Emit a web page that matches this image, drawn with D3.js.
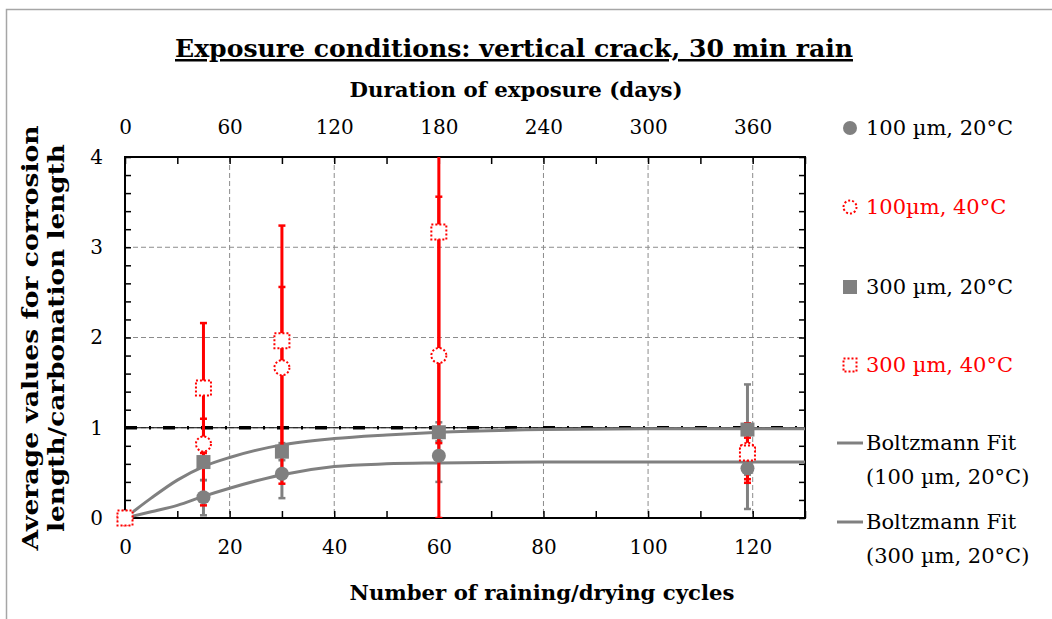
<!DOCTYPE html>
<html>
<head>
<meta charset="utf-8">
<script src="https://cdn.jsdelivr.net/npm/d3@7"></script>
<style>
  body { margin: 0; background: #fff; }
  text { font-family: "DejaVu Serif", serif; }
</style>
</head>
<body>
<div id="chart"></div>
<script>
const WIDTH = 1052;
const HEIGHT = 619;

// Plot box.
const PLOT = {'left': 125, 'right': 805, 'top': 157, 'bottom': 518};

// Data (cycles on the x axis).
const cycles = [0, 15, 30, 60, 119];

const mean100_20 = [0, 0.23, 0.49, 0.69, 0.55];
const low100_20  = [0, 0.03, 0.22, 0.40, 0.10];
const high100_20 = [0, 0.42, 0.74, 0.98, 0.98];

const mean300_20 = [0, 0.62, 0.735, 0.95, 0.98];
const low300_20  = [0, 0.42, 0.64, 0.85, 0.48];
const high300_20 = [0, 0.82, 0.83, 1.06, 1.48];

const mean100_40 = [0, 0.82, 1.665, 1.80, 0.75];
const low100_40  = [0, 0.14, 0.38, 0.00, 0.43];
const high100_40 = [0, 1.10, 2.56, 3.56, 0.89];

const mean300_40 = [0, 1.44, 1.965, 3.17, 0.72];
const low300_40  = [0, 0.72, 0.69, 0.83, 0.39];
const high300_40 = [0, 2.16, 3.24, 5.50, 1.05];

// Boltzmann fit curves.
const fitX      = [0, 5, 10, 15, 20, 30, 40, 50, 60, 80, 100, 130];
const fit100_20 = [0, 0.07, 0.14, 0.24, 0.33, 0.48, 0.57, 0.60, 0.61, 0.62, 0.62, 0.62];
const fit300_20 = [0, 0.22, 0.42, 0.57, 0.67, 0.81, 0.88, 0.92, 0.95, 0.98, 0.99, 0.99];

const refLevel = 1;

const xTicks = [0, 20, 40, 60, 80, 100, 120];
const yTicks = [0, 1, 2, 3, 4];
const dayTicks = [0, 60, 120, 180, 240, 300, 360];

const GRAY = "#808080";
const RED = "#ff0000";

window.onload = function() {

    var svg = d3.select("#chart").append("svg")
        .attr("width", WIDTH)
        .attr("height", HEIGHT);

    // outer frame
    svg.append("rect")
        .attr("x", 6.5).attr("y", 9.5)
        .attr("width", 1200).attr("height", 800)
        .attr("fill", "none")
        .attr("stroke", "#a6a6a6")
        .attr("stroke-width", 1.5);

    var x = d3.scaleLinear().domain([0, 130]).range([PLOT.left, PLOT.right]);
    var xDays = d3.scaleLinear().domain([0, 390]).range([PLOT.left, PLOT.right]);
    var y = d3.scaleLinear().domain([0, 4]).range([PLOT.bottom, PLOT.top]);

    svg.append("defs").append("clipPath").attr("id", "clip")
        .append("rect")
        .attr("x", PLOT.left).attr("y", PLOT.top)
        .attr("width", PLOT.right - PLOT.left)
        .attr("height", PLOT.bottom - PLOT.top);

    // grid
    var grid = svg.append("g");
    grid.selectAll(".vg").data(xTicks.filter(d => d > 0))
        .enter().append("line")
        .attr("x1", d => x(d)).attr("x2", d => x(d))
        .attr("y1", PLOT.top).attr("y2", PLOT.bottom)
        .attr("stroke", "#8c8c8c").attr("stroke-width", 1)
        .attr("stroke-dasharray", "5,3");
    grid.selectAll(".hg").data([1, 2, 3])
        .enter().append("line")
        .attr("x1", PLOT.left).attr("x2", PLOT.right)
        .attr("y1", d => y(d)).attr("y2", d => y(d))
        .attr("stroke", "#8c8c8c").attr("stroke-width", 1)
        .attr("stroke-dasharray", "5,3");

    // minor ticks (inward)
    var minorX = d3.range(0, 131, 10);
    var minorY = d3.range(0, 4.01, 0.2);
    svg.append("g")
        .attr("transform", "translate(0," + PLOT.bottom + ")")
        .call(d3.axisBottom(x).tickValues(minorX).tickSize(-7).tickFormat(""))
        .call(g => g.select(".domain").remove())
        .selectAll("line").attr("stroke", "#000").attr("stroke-width", 1.5);
    svg.append("g")
        .attr("transform", "translate(0," + PLOT.top + ")")
        .call(d3.axisTop(xDays).tickValues(d3.range(0, 391, 30)).tickSize(-7).tickFormat(""))
        .call(g => g.select(".domain").remove())
        .selectAll("line").attr("stroke", "#000").attr("stroke-width", 1.5);
    svg.append("g")
        .attr("transform", "translate(" + PLOT.left + ",0)")
        .call(d3.axisLeft(y).tickValues(minorY).tickSize(-6).tickFormat(""))
        .call(g => g.select(".domain").remove())
        .selectAll("line").attr("stroke", "#000").attr("stroke-width", 1.5);
    svg.append("g")
        .attr("transform", "translate(" + PLOT.right + ",0)")
        .call(d3.axisRight(y).tickValues(minorY).tickSize(-6).tickFormat(""))
        .call(g => g.select(".domain").remove())
        .selectAll("line").attr("stroke", "#000").attr("stroke-width", 1.5);

    // labels
    var bottomAxis = svg.append("g")
        .attr("transform", "translate(0," + PLOT.bottom + ")")
        .call(d3.axisBottom(x).tickValues(xTicks).tickSize(0).tickPadding(22));
    var topAxis = svg.append("g")
        .attr("transform", "translate(0," + PLOT.top + ")")
        .call(d3.axisTop(xDays).tickValues(dayTicks).tickSize(0).tickPadding(23));
    var leftAxis = svg.append("g")
        .attr("transform", "translate(" + PLOT.left + ",0)")
        .call(d3.axisLeft(y).tickValues(yTicks).tickSize(0).tickPadding(22).tickFormat(d3.format("d")));
    [bottomAxis, topAxis, leftAxis].forEach(function(a) {
        a.select(".domain").remove();
        a.selectAll("text")
            .attr("font-family", "DejaVu Serif")
            .attr("font-size", "20px")
            .attr("fill", "#000");
    });

    // frame
    svg.append("rect")
        .attr("x", PLOT.left).attr("y", PLOT.top)
        .attr("width", PLOT.right - PLOT.left)
        .attr("height", PLOT.bottom - PLOT.top)
        .attr("fill", "none").attr("stroke", "#000").attr("stroke-width", 2);

    var plot = svg.append("g").attr("clip-path", "url(#clip)");

    // reference line at 1
    plot.append("line")
        .attr("x1", x(0)).attr("x2", x(130))
        .attr("y1", y(refLevel)).attr("y2", y(refLevel))
        .attr("stroke", "#000").attr("stroke-width", 1.2);
    plot.append("line")
        .attr("x1", x(0)).attr("x2", x(130))
        .attr("y1", y(refLevel)).attr("y2", y(refLevel))
        .attr("stroke", "#000").attr("stroke-width", 3.5)
        .attr("stroke-dasharray", "12,12,2,12");

    // fits
    var line = d3.line()
        .x(d => x(d[0])).y(d => y(d[1]))
        .curve(d3.curveMonotoneX);
    [fit100_20, fit300_20].forEach(function(f) {
        plot.append("path")
            .attr("d", line(fitX.map((c, i) => [c, f[i]])))
            .attr("fill", "none")
            .attr("stroke", GRAY).attr("stroke-width", 3);
    });

    function errorBars(lo, hi, color) {
        var g = plot.append("g");
        cycles.forEach(function(c, i) {
            if (hi[i] - lo[i] <= 0) return;
            g.append("line")
                .attr("x1", x(c)).attr("x2", x(c))
                .attr("y1", y(lo[i])).attr("y2", y(hi[i]))
                .attr("stroke", color).attr("stroke-width", 3);
            [lo[i], hi[i]].forEach(function(v) {
                g.append("line")
                    .attr("x1", x(c) - 3.5).attr("x2", x(c) + 3.5)
                    .attr("y1", y(v)).attr("y2", y(v))
                    .attr("stroke", color).attr("stroke-width", 2.5);
            });
        });
    }

    errorBars(low100_20, high100_20, GRAY);
    errorBars(low300_20, high300_20, GRAY);
    errorBars(low100_40, high100_40, RED);
    errorBars(low300_40, high300_40, RED);

    // markers
    plot.append("g").selectAll("circle")
        .data(cycles.map((c, i) => [c, mean100_20[i]]))
        .enter().append("circle")
        .attr("cx", d => x(d[0])).attr("cy", d => y(d[1]))
        .attr("r", 7).attr("fill", GRAY);

    plot.append("g").selectAll("rect")
        .data(cycles.map((c, i) => [c, mean300_20[i]]))
        .enter().append("rect")
        .attr("x", d => x(d[0]) - 7).attr("y", d => y(d[1]) - 7)
        .attr("width", 14).attr("height", 14).attr("fill", GRAY);

    svg.append("g").selectAll("circle")
        .data(cycles.map((c, i) => [c, mean100_40[i]]))
        .enter().append("circle")
        .attr("cx", d => x(d[0])).attr("cy", d => y(d[1]))
        .attr("r", 7.5).attr("fill", "#fff")
        .attr("stroke", RED).attr("stroke-width", 2)
        .attr("stroke-dasharray", "2,2");

    svg.append("g").selectAll("rect")
        .data(cycles.map((c, i) => [c, mean300_40[i]]))
        .enter().append("rect")
        .attr("x", d => x(d[0]) - 7.5).attr("y", d => y(d[1]) - 7.5)
        .attr("width", 15).attr("height", 15).attr("fill", "#fff")
        .attr("stroke", RED).attr("stroke-width", 2)
        .attr("stroke-dasharray", "2,2");

    // titles
    svg.append("text")
        .attr("x", 514).attr("y", 57)
        .attr("text-anchor", "middle")
        .attr("font-size", "25px").attr("font-weight", "bold")
        .attr("text-decoration", "underline")
        .attr("textLength", 678).attr("lengthAdjust", "spacingAndGlyphs")
        .text("Exposure conditions: vertical crack, 30 min rain");

    svg.append("text")
        .attr("x", 516).attr("y", 97)
        .attr("text-anchor", "middle")
        .attr("font-size", "21px").attr("font-weight", "bold")
        .attr("textLength", 333).attr("lengthAdjust", "spacingAndGlyphs")
        .text("Duration of exposure (days)");

    svg.append("text")
        .attr("x", 542).attr("y", 600)
        .attr("text-anchor", "middle")
        .attr("font-size", "21px").attr("font-weight", "bold")
        .attr("textLength", 385).attr("lengthAdjust", "spacingAndGlyphs")
        .text("Number of raining/drying cycles");

    var yTitle = svg.append("text")
        .attr("transform", "translate(38,338) rotate(-90)")
        .attr("text-anchor", "middle")
        .attr("font-size", "22px").attr("font-weight", "bold");
    yTitle.append("tspan").attr("x", 0).attr("dy", 0)
        .attr("textLength", 425).attr("lengthAdjust", "spacingAndGlyphs")
        .text("Average values for corrosion");
    yTitle.append("tspan").attr("x", 0).attr("dy", 26)
        .attr("textLength", 388).attr("lengthAdjust", "spacingAndGlyphs")
        .text("length/carbonation length");

    // legend
    var legend = svg.append("g");
    legend.append("circle").attr("cx", 850).attr("cy", 128).attr("r", 7).attr("fill", GRAY);
    legend.append("circle").attr("cx", 850).attr("cy", 207).attr("r", 6.5)
        .attr("fill", "#fff").attr("stroke", RED).attr("stroke-width", 2).attr("stroke-dasharray", "2,2");
    legend.append("rect").attr("x", 843).attr("y", 280).attr("width", 14).attr("height", 14).attr("fill", GRAY);
    legend.append("rect").attr("x", 843.5).attr("y", 358.5).attr("width", 13).attr("height", 13)
        .attr("fill", "#fff").attr("stroke", RED).attr("stroke-width", 2).attr("stroke-dasharray", "2,2");
    legend.append("line").attr("x1", 837).attr("x2", 863).attr("y1", 443).attr("y2", 443)
        .attr("stroke", GRAY).attr("stroke-width", 3);
    legend.append("line").attr("x1", 837).attr("x2", 863).attr("y1", 522).attr("y2", 522)
        .attr("stroke", GRAY).attr("stroke-width", 3);

    var legendText = [
        ["100 µm, 20°C", 128, "#000"],
        ["100µm, 40°C", 207, RED],
        ["300 µm, 20°C", 287, "#000"],
        ["300 µm, 40°C", 365, RED],
        ["Boltzmann Fit", 443, "#000"],
        ["(100 µm, 20°C)", 477, "#000"],
        ["Boltzmann Fit", 522, "#000"],
        ["(300 µm, 20°C)", 556, "#000"]
    ];
    legend.selectAll("text").data(legendText)
        .enter().append("text")
        .attr("x", 866).attr("y", d => d[1])
        .attr("dy", "0.35em")
        .attr("font-size", "21px")
        .attr("fill", d => d[2])
        .text(d => d[0]);
};
</script>
</body>
</html>
